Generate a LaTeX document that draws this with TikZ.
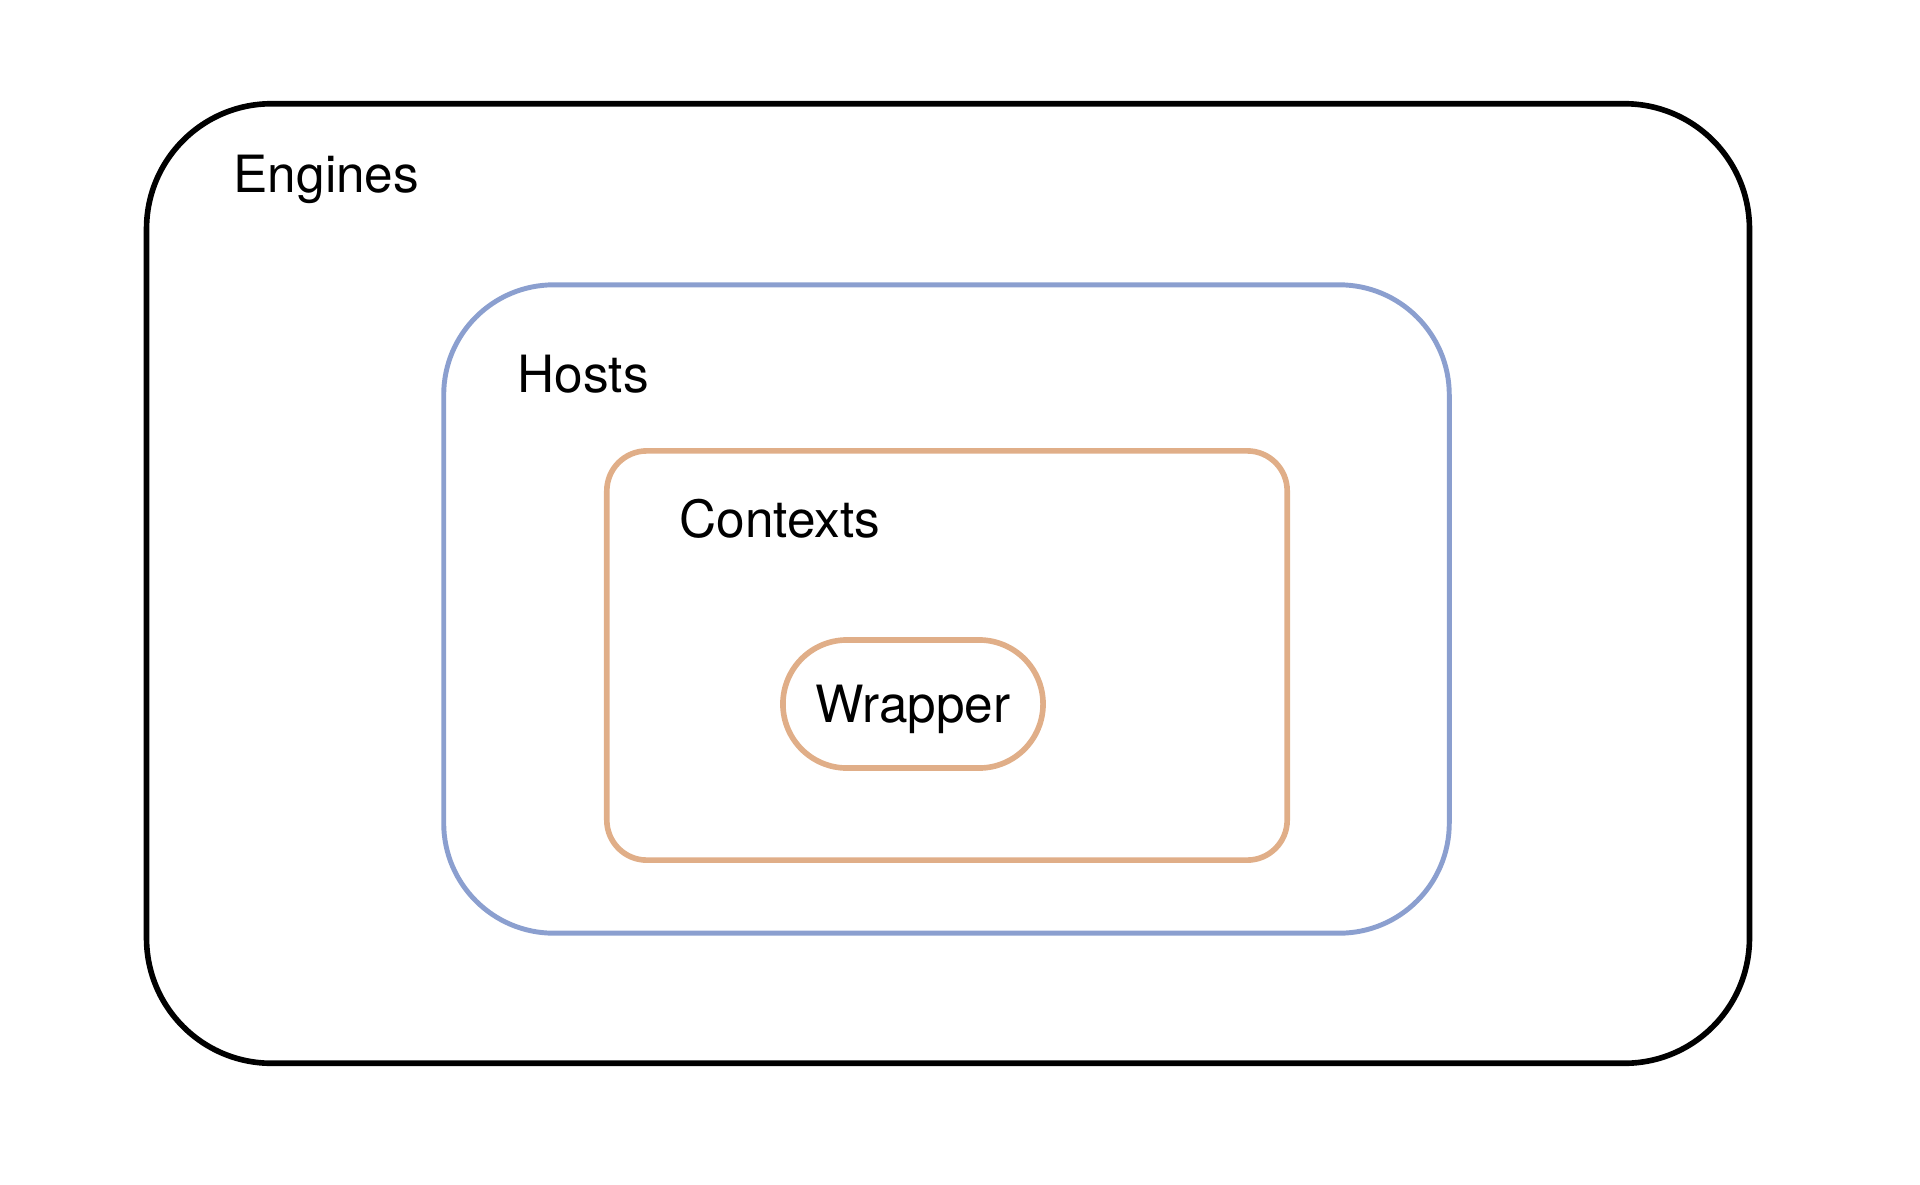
\documentclass[tikz,border=0pt]{standalone}
\usepackage{fontspec}
\setmainfont{TeX Gyre Heros}
\usetikzlibrary{positioning}
\definecolor{hostblue}{HTML}{8B9FCF}
\definecolor{ctxorange}{HTML}{E0AE88}

\begin{document}
\begin{tikzpicture}[x=0.01cm,y=-0.01cm]
\tikzset{
  layerbox/.style={rectangle,draw,inner sep=0pt,outer sep=0pt},
  layerlabel/.style={anchor=base west,inner sep=0pt,font=\fontsize{14.6}{16}\selectfont}
}
\useasboundingbox (0,0) rectangle (1920,1184);
% nested boxes
\node[layerbox,line width=1.6pt,rounded corners=1.25cm,minimum width=16.02cm,minimum height=9.59cm] (engines) at (948,583.5) {};
\node[layerbox,draw=hostblue,line width=1.4pt,rounded corners=1.1cm,minimum width=10.05cm,minimum height=6.48cm] (hosts) at (946.5,609) {};
\node[layerbox,draw=ctxorange,line width=1.6pt,rounded corners=0.4cm,minimum width=6.8cm,minimum height=4.09cm] (contexts) at (947,655.5) {};
\node[layerbox,draw=ctxorange,line width=1.6pt,rounded corners=0.64cm,minimum width=2.6cm,minimum height=1.28cm] (wrapper) at (913,704) {};
% labels
\node[layerlabel] (l_engines) at (233,192) {Engines};
\node[layerlabel] (l_hosts) at (517,392) {Hosts};
\node[layerlabel] (l_contexts) at (679,537) {Contexts};
\node[layerlabel,anchor=base] (l_wrapper) at (913,722) {Wrapper};
\end{tikzpicture}
\end{document}
